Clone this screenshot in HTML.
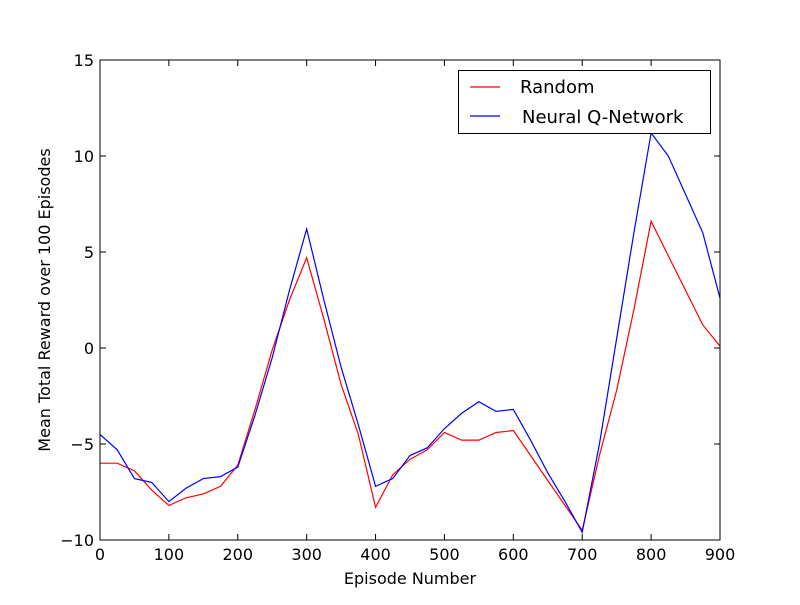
<!DOCTYPE html>
<html><head><meta charset="utf-8"><style>
body{margin:0;background:#fff}
svg{font-family:"DejaVu Sans","Liberation Sans",sans-serif}
</style></head><body>
<svg id="chart" width="800" height="600" xmlns="http://www.w3.org/2000/svg">
<rect width="800" height="600" fill="#fff"/>
<g id="plot"></g>
</svg>
<script>
const episodes=[0,25,50,75,100,125,150,175,200,225,250,275,300,325,350,375,400,425,450,475,500,525,550,575,600,625,650,675,700,725,750,775,800,825,850,875,900];
const randomVals=[-6,-6,-6.4,-7.4,-8.2,-7.8,-7.6,-7.2,-6.1,-3.2,-0.1,2.5,4.7,1.5,-1.9,-4.5,-8.3,-6.6,-5.8,-5.3,-4.4,-4.8,-4.8,-4.4,-4.3,-5.6,-6.9,-8.2,-9.5,-5.6,-2.2,2.0,6.6,4.8,3.0,1.2,0.1];
const neuralVals=[-4.5,-5.3,-6.8,-7.0,-8.0,-7.3,-6.8,-6.7,-6.2,-3.5,-0.5,3.0,6.2,2.5,-1.0,-4.0,-7.2,-6.8,-5.6,-5.2,-4.2,-3.4,-2.8,-3.3,-3.2,-4.8,-6.5,-8.0,-9.6,-5.0,0.5,6.0,11.2,10.0,8.0,6.0,2.6];
const xTicks=[0,100,200,300,400,500,600,700,800,900];
const yTicks=[-10,-5,0,5,10,15];
const yTickLabels=["\u221210","\u22125","0","5","10","15"];
const L=100,R=720,T=60,B=540;
const xs=v=>L+(v-0)/900*(R-L);
const ys=v=>B-(v+10)/25*(B-T);
const g=document.getElementById('plot');
const NS='http://www.w3.org/2000/svg';
function mk(t,a,p){const e=document.createElementNS(NS,t);for(const k in a)e.setAttribute(k,a[k]);(p||g).appendChild(e);return e;}
function line(vals,color,name){
  const e=mk('polyline',{points:vals.map((v,i)=>xs(episodes[i])+','+ys(v)).join(' '),fill:'none',stroke:color,'stroke-width':1.2});
  
  
}
line(randomVals,'#ff0000','random-series');
line(neuralVals,'#0000ff','neural-q-network-series');
const frame=mk('rect',{x:L,y:T,width:R-L,height:B-T,fill:'none',stroke:'#000','stroke-width':1});


xTicks.forEach(v=>{
  const x=xs(v);
  mk('line',{x1:x,y1:B,x2:x,y2:B-6,stroke:'#000'});
  mk('line',{x1:x,y1:T,x2:x,y2:T+6,stroke:'#000'});
  const t=mk('text',{x:x,y:B+20,'text-anchor':'middle','font-size':16});
  t.textContent=v;
  
  
});
yTicks.forEach((v,i)=>{
  const y=ys(v);
  mk('line',{x1:L,y1:y,x2:L+6,y2:y,stroke:'#000'});
  mk('line',{x1:R,y1:y,x2:R-6,y2:y,stroke:'#000'});
  const t=mk('text',{x:L-6,y:y+6,'text-anchor':'end','font-size':16});
  t.textContent=yTickLabels[i];
  
  
});
const xt=mk('text',{x:410,y:584,'text-anchor':'middle','font-size':16});
xt.textContent='Episode Number';


const yt=mk('text',{x:50,y:300,'text-anchor':'middle','font-size':16,transform:'rotate(-90 50 300)'});
yt.textContent='Mean Total Reward over 100 Episodes';


const lg=mk('g',{});


mk('rect',{x:458.5,y:70.5,width:252,height:63,fill:'#fff',stroke:'#000'},lg);
mk('line',{x1:470,y1:87,x2:500,y2:87,stroke:'#ff0000','stroke-width':1.2},lg);
mk('line',{x1:470,y1:116,x2:500,y2:116,stroke:'#0000ff','stroke-width':1.2},lg);
const l1=mk('text',{x:520,y:93,'font-size':18},lg);
l1.textContent='Random';


const l2=mk('text',{x:522,y:123,'font-size':18},lg);
l2.textContent='Neural Q-Network';


</script>
</body></html>
